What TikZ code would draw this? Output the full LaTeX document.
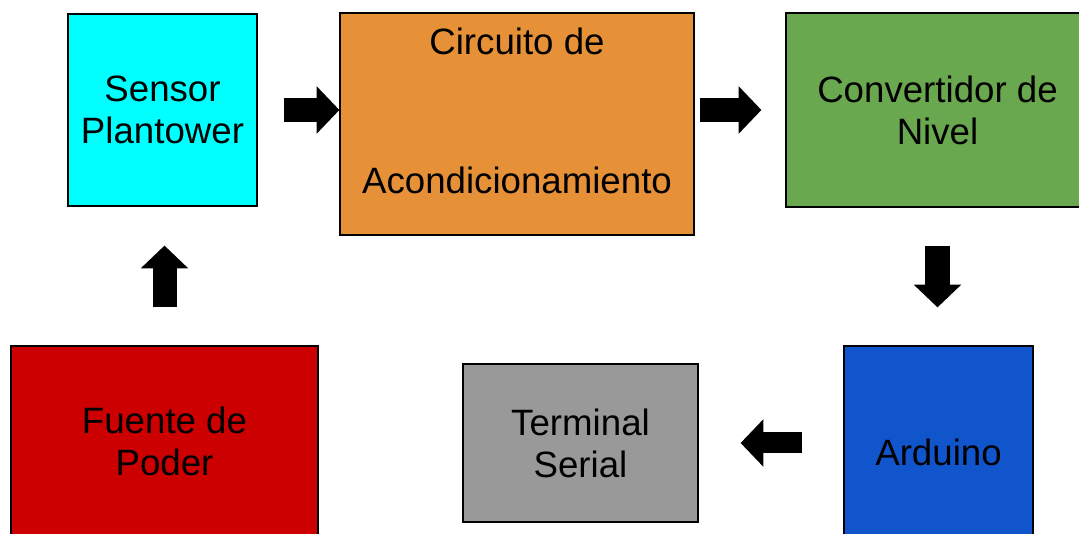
\documentclass[tikz,border=0pt]{standalone}
\usepackage{fontspec}
\setmainfont{Liberation Sans}
\usetikzlibrary{arrows.meta}
\definecolor{cyanbox}{HTML}{00FFFF}
\definecolor{orangebox}{HTML}{E69138}
\definecolor{greenbox}{HTML}{6AA84F}
\definecolor{bluebox}{HTML}{1155CC}
\definecolor{graybox}{HTML}{999999}
\definecolor{redbox}{HTML}{CC0000}
\tikzset{
  block/.style={draw=black, line width=0.9pt, inner sep=0pt, align=center,
    font=\fontsize{27.5}{31.5}\selectfont},
  bigarrow/.style={line width=18pt, -{Triangle[length=17pt,width=34.5pt]}}
}
\begin{document}
\begin{tikzpicture}[x=0.75pt,y=-0.75pt]
\useasboundingbox (0,0) rectangle (1079,534);
\clip (0,0) rectangle (1079,534);
\node[block, fill=cyanbox, minimum width=141.75pt, minimum height=144pt] (sensor) at (162.5,110) {Sensor\\Plantower};
\node[block, fill=orangebox, minimum width=265.5pt, minimum height=166.5pt] (circ) at (517,124) {};
\node[block, draw=none] (circtxt) at (517,110.5) {Circuito de\\[72.75pt]Acondicionamiento};
\node[block, fill=greenbox, minimum width=227.25pt, minimum height=145.5pt] (conv) at (937.5,110) {Convertidor de\\Nivel};
\node[block, fill=bluebox, minimum width=141.75pt, minimum height=159pt] (ard) at (938.5,452) {Arduino};
\node[block, fill=graybox, minimum width=176.25pt, minimum height=118.5pt] (term) at (580.5,443) {Terminal\\Serial};
\node[block, fill=redbox, minimum width=230.25pt, minimum height=142.5pt] (fuente) at (164.5,441) {Fuente de\\Poder};
% flechas
\path[draw,bigarrow,shorten <=19.5pt] (sensor.east) -- (sensor.east -| circ.west);
\path[draw,bigarrow,shorten <=3.75pt,shorten >=18pt] (circ.east |- conv.west) -- (conv.west);
\path[draw,bigarrow,line width=18.75pt,shorten <=28.5pt,shorten >=28.5pt] (conv.south) -- (conv.south |- ard.north);
\path[draw,bigarrow,line width=15.75pt,shorten <=30.75pt,shorten >=31.5pt] (ard.west |- term.east) -- (term.east);
\path[draw,bigarrow,shorten <=28.5pt,shorten >=29.25pt] (fuente.north) -- (fuente.north |- sensor.south);
\end{tikzpicture}
\end{document}
